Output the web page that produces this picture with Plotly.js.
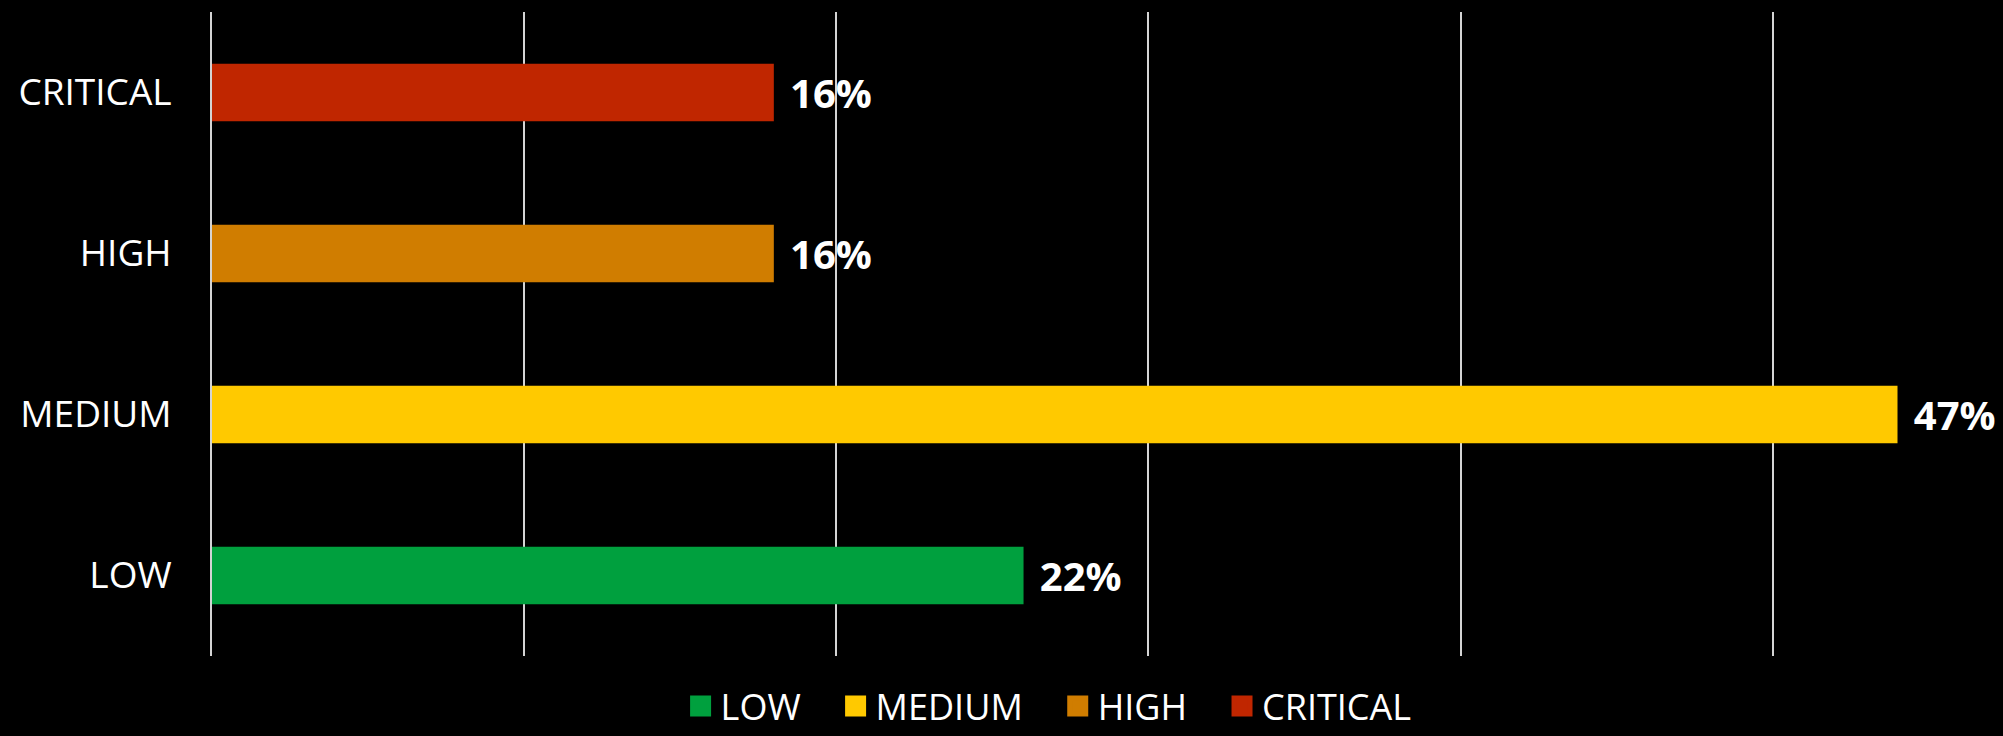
<!DOCTYPE html>
<html>
<head>
<meta charset="utf-8">
<script src="https://cdn.plot.ly/plotly-3.0.1.min.js"></script>
<style>
  html, body { margin: 0; padding: 0; background: #000; }
  #chart { width: 2003px; height: 736px; }
</style>
</head>
<body>
<div id="chart"></div>
<script>
const categories = ['LOW', 'MEDIUM', 'HIGH', 'CRITICAL'];
const counts = [13, 27, 9, 9];
const percentLabels = ['22%', '47%', '16%', '16%'];
const colors = ['rgb(0,160,62)', 'rgb(255,201,0)', 'rgb(208,125,0)', 'rgb(192,38,0)'];

const traces = [];
categories.forEach((cat, i) => {
  traces.push({
    type: 'bar',
    orientation: 'h',
    y: [cat],
    x: [counts[i]],
    text: [percentLabels[i]],
    texttemplate: '\u2009\u2009%{text}',
    textposition: 'outside',
    cliponaxis: false,
    textfont: { family: 'Open Sans', size: 40, color: '#ffffff', weight: 'bold' },
    marker: { color: colors[i], line: { width: 0 } },
    name: cat,
    showlegend: false,
    hoverinfo: 'skip'
  });
});
categories.forEach((cat, i) => {
  traces.push({
    type: 'scatter',
    mode: 'markers',
    y: [cat],
    x: [null],
    marker: { symbol: 'square', size: 16, color: colors[i], line: { width: 5, color: colors[i] } },
    name: cat + '\u2002\u2009\u2009',
    showlegend: true,
    hoverinfo: 'skip'
  });
});

const layout = {
  width: 2003,
  height: 736,
  paper_bgcolor: '#000000',
  plot_bgcolor: '#000000',
  margin: { l: 212, r: 0, t: 12, b: 80, pad: 0 },
  barmode: 'overlay',
  bargap: 0.643,
  font: { family: 'Open Sans', color: '#ffffff', size: 36 },
  xaxis: {
    range: [0, 28.69],
    dtick: 5,
    tick0: 0,
    showgrid: true,
    gridcolor: '#d4d4d4',
    gridwidth: 2,
    zeroline: false,
    showline: false,
    showticklabels: false,
    ticks: '',
    fixedrange: true
  },
  yaxis: {
    type: 'category',
    categoryorder: 'array',
    categoryarray: categories,
    range: [-0.5, 3.5],
    showgrid: false,
    zeroline: false,
    showline: true,
    linecolor: '#d4d4d4',
    linewidth: 2,
    ticks: '',
    ticklabelstandoff: 31,
    tickfont: { family: 'Open Sans', size: 37, color: '#ffffff' },
    fixedrange: true
  },
  showlegend: true,
  legend: {
    orientation: 'h',
    xref: 'container',
    yref: 'container',
    x: 0.531,
    xanchor: 'center',
    y: -0.011,
    yanchor: 'bottom',
    font: { family: 'Open Sans', size: 36, color: '#ffffff' },
    bgcolor: 'rgba(0,0,0,0)',
    traceorder: 'normal',
    itemclick: false,
    itemdoubleclick: false
  }
};

Plotly.newPlot('chart', traces, layout, { displayModeBar: false, staticPlot: true });
</script>
</body>
</html>
